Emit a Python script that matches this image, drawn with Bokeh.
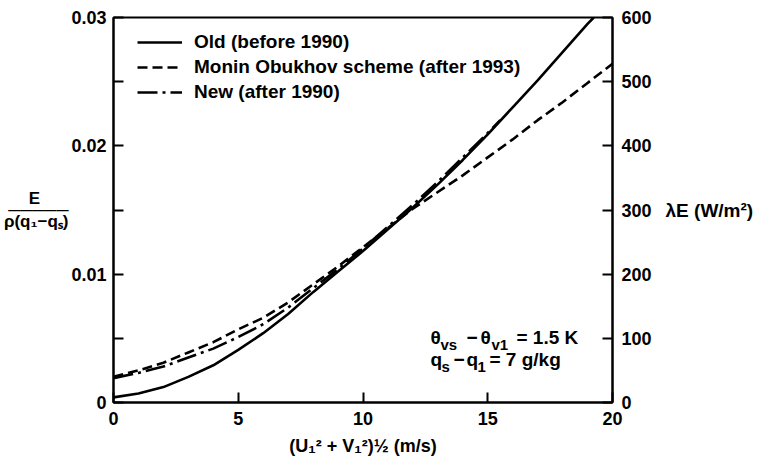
from bokeh.plotting import figure
from bokeh.models import (Range1d, LinearAxis, FixedTicker, CustomJSTickFormatter,
                          Legend, LegendItem, Label)
from bokeh.embed import file_html
from bokeh.resources import INLINE

# ---- data ----
old_x = [0, 1, 2, 3, 4, 5, 6, 7, 8, 9, 10, 11, 12, 13, 14, 15, 16, 17, 18, 19, 19.25]
old_y = [0.0004, 0.0007, 0.0012, 0.0020, 0.0029, 0.0041, 0.0054, 0.0069, 0.0086, 0.0102,
         0.0118, 0.0135, 0.0152, 0.0170, 0.0189, 0.0209, 0.0230, 0.0251, 0.0273, 0.0295, 0.0300]

mo_x = [0, 1, 2, 3, 4, 5, 6, 7, 8, 9, 10, 11, 12, 13, 14, 15, 16, 17, 18, 19, 20]
mo_y = [0.0020, 0.0025, 0.0031, 0.0039, 0.0047, 0.0057, 0.0066, 0.0078, 0.0092, 0.0106,
        0.0121, 0.0136, 0.0151, 0.0164, 0.0177, 0.0191, 0.0205, 0.0220, 0.0234, 0.0249, 0.0264]

new_x = [0, 1, 2, 3, 4, 5, 6, 7, 8, 9, 10, 11, 12, 13, 14, 15, 15.5]
new_y = [0.0019, 0.0023, 0.0028, 0.0035, 0.0042, 0.0051, 0.0061, 0.0074, 0.0089, 0.0104,
         0.0120, 0.0137, 0.0154, 0.0172, 0.0191, 0.0210, 0.0220]

legend_labels = ["Old (before 1990)", "Monin Obukhov scheme (after 1993)", "New (after 1990)"]
x_ticks = [0, 5, 10, 15, 20]
y_ticks = [0, 0.01, 0.02, 0.03]
y_minor = [0.005, 0.015, 0.025]
right_ticks = [0, 100, 200, 300, 400, 500, 600]

x_title = "(U\u2081\u00b2 + V\u2081\u00b2)\u00bd (m/s)"
y_title = "E" + "\u00a0" * 6 + "\n" + "\u2500" * 5 + "\n\u03c1(q\u2081\u2212q\u209b)"
y2_title = "\u03bbE (W/m\u00b2)"

# ---- layout ----
W, H = 763, 469
FL, FR, FT, FB = 113, 612, 17, 402
XMAX, YMAX = 20, 0.03

def X(px):
    return (px - FL) / (FR - FL) * XMAX

def Y(py):
    return (FB - py) / (FB - FT) * YMAX

FONT = "Liberation Sans"

p = figure(width=W, height=H, output_backend="svg", toolbar_location=None,
           x_range=Range1d(0, XMAX), y_range=Range1d(0, YMAX),
           min_border_left=FL, min_border_right=W - FR, min_border_top=FT,
           min_border_bottom=H - FB)
p.grid.visible = False
p.background_fill_color = "white"
p.border_fill_color = "white"
p.outline_line_color = "black"
p.outline_line_width = 2

def style_axis(ax):
    ax.axis_line_width = 2
    ax.axis_line_color = "black"
    ax.major_tick_in = 10
    ax.major_tick_out = 0
    ax.major_tick_line_width = 2
    ax.minor_tick_in = 10
    ax.minor_tick_out = 0
    ax.minor_tick_line_width = 2
    ax.major_label_text_font = FONT
    ax.major_label_text_font_style = "bold"
    ax.major_label_text_font_size = "18px"
    ax.major_label_text_color = "black"
    ax.axis_label_text_font = FONT
    ax.axis_label_text_font_style = "bold"
    ax.axis_label_text_color = "black"

xa = p.xaxis[0]
style_axis(xa)
xa.ticker = FixedTicker(ticks=x_ticks, minor_ticks=[])
xa.major_label_standoff = 9
xa.axis_label = x_title
xa.axis_label_text_font_size = "18px"
xa.axis_label_standoff = 8

ya = p.yaxis[0]
style_axis(ya)
ya.ticker = FixedTicker(ticks=y_ticks, minor_ticks=y_minor)
ya.formatter = CustomJSTickFormatter(code="return tick == 0 ? '0' : tick.toFixed(2);")
ya.major_label_standoff = 7
ya.axis_label = y_title
ya.axis_label_orientation = "horizontal"
ya.axis_label_text_font_size = "17px"
ya.axis_label_text_line_height = 0.62
ya.axis_label_standoff = 0

p.extra_y_ranges = {"right": Range1d(0, 600)}
ra = LinearAxis(y_range_name="right")
style_axis(ra)
ra.ticker = FixedTicker(ticks=right_ticks, minor_ticks=[])
ra.major_label_standoff = 9
ra.axis_label = y2_title
ra.axis_label_orientation = "horizontal"
ra.axis_label_text_font_size = "19px"
ra.axis_label_standoff = 11
p.add_layout(ra, "right")

# ---- curves ----
r_old = p.line(old_x, old_y, line_color="black", line_width=2.6)
r_mo = p.line(mo_x, mo_y, line_color="black", line_width=2.6, line_dash="10 5")
r_new = p.line(new_x, new_y, line_color="black", line_width=2.6, line_dash="20 5 3 5")

legend = Legend(items=[LegendItem(label=legend_labels[0], renderers=[r_old]),
                       LegendItem(label=legend_labels[1], renderers=[r_mo]),
                       LegendItem(label=legend_labels[2], renderers=[r_new])],
                location=(16, 291), orientation="vertical",
                glyph_width=45, glyph_height=20, label_height=20, spacing=3,
                padding=8, margin=0, label_standoff=12,
                label_text_font=FONT, label_text_font_style="bold",
                label_text_font_size="19px", label_text_baseline="middle",
                label_text_color="black",
                border_line_alpha=0, background_fill_alpha=0)
p.add_layout(legend)

def lab(text, px, py, size="19px", align="left", baseline="middle"):
    p.add_layout(Label(x=X(px), y=Y(py), text=text, text_font=FONT,
                       text_font_style="bold", text_font_size=size,
                       text_align=align, text_baseline=baseline,
                       text_color="black"))

# annotation text (inside the frame)
lab("\u03b8", 430, 337)
lab("vs", 440, 344, size="15px")
lab("\u2212", 466, 337)
lab("\u03b8", 480, 337)
lab("v1", 491, 344, size="15px")
lab("= 1.5 K", 516, 337)
lab("q", 430, 359)
lab("s", 441, 366, size="15px")
lab("\u2212", 453, 359)
lab("q", 466, 359)
lab("1", 477, 366, size="15px")
lab("= 7 g/kg", 489, 359)

open("out.html", "w").write(file_html(p, INLINE))
